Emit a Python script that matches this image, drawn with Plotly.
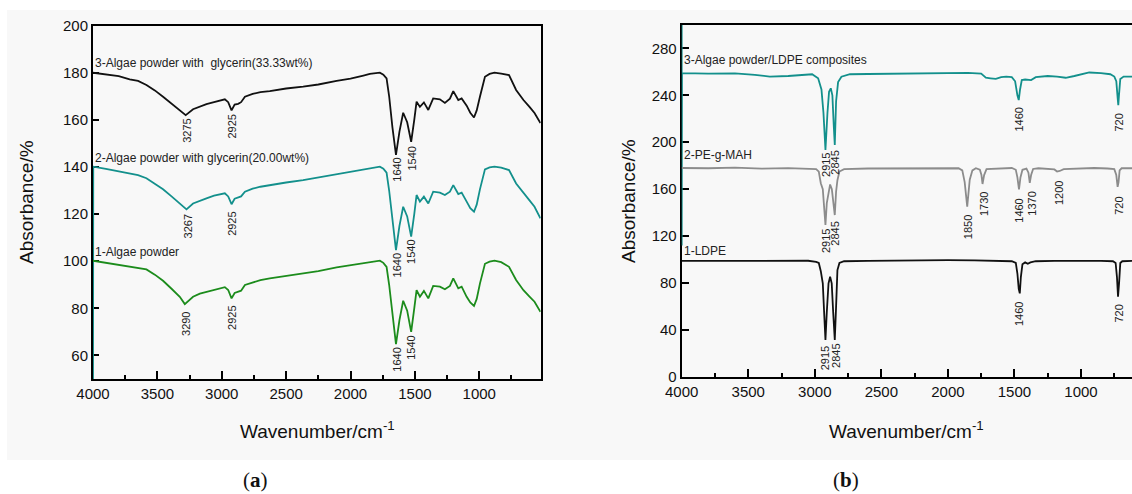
import plotly.graph_objects as go
from plotly.subplots import make_subplots

# ---------------- Panel (a) data ----------------
a3_w = [4000, 3900, 3800, 3715, 3650, 3585, 3520, 3456, 3390, 3326, 3280, 3223, 3170, 3119, 3060, 3015,
        2976, 2950, 2924, 2900, 2873, 2850, 2820, 2760, 2700, 2627, 2500, 2368, 2250, 2108, 2000, 1900,
        1850, 1772, 1745, 1720, 1700, 1675, 1647, 1620, 1591, 1560, 1529, 1505, 1487, 1461, 1430, 1396,
        1358, 1306, 1267, 1228, 1202, 1163, 1137, 1098, 1070, 1041, 1020, 995, 956, 920, 882, 830, 769,
        714, 657, 610, 571, 525]
a3_v = [180, 179.2, 178.6, 177.2, 176.5, 174.8, 172.5, 169.8, 167, 164.2, 162, 164.5, 165.8, 166.7, 167.5,
        168.1, 168.7, 167.5, 164, 166.5, 166.8, 167.5, 169.8, 171, 171.8, 172.2, 173.3, 174.1, 175, 176.5,
        177.5, 178.8, 179.5, 180, 179.2, 177.6, 170, 157, 145.1, 155, 163, 159, 150.7, 160, 167.7, 165.5,
        167.4, 164.2, 169.1, 168.7, 167.2, 169, 172.2, 168.4, 169.1, 166, 163, 161, 164, 169.8, 178.3,
        179.5, 180, 179.6, 179, 172.7, 168.4, 165.5, 162.9, 158.6]

a2_w = [4000, 3998, 3900, 3800, 3715, 3650, 3585, 3520, 3456, 3390, 3326, 3274, 3223, 3170, 3119, 3060,
        3015, 2976, 2950, 2924, 2900, 2873, 2850, 2820, 2760, 2700, 2627, 2500, 2368, 2250, 2108, 2000,
        1900, 1850, 1772, 1745, 1720, 1700, 1675, 1647, 1620, 1591, 1560, 1529, 1505, 1487, 1461, 1430,
        1396, 1358, 1306, 1267, 1228, 1202, 1163, 1137, 1098, 1070, 1041, 1020, 995, 956, 920, 882, 830,
        769, 714, 657, 610, 571, 525]
a2_v = [45, 140.1, 139.2, 138.2, 137.3, 136.5, 135.2, 133, 130.5, 127.5, 124.5, 122, 124.5, 125.8, 126.7,
        127.8, 128.5, 128.8, 127.5, 124.2, 126.5, 127, 127.5, 129.5, 130.8, 131.6, 132.3, 133.4, 134.4,
        135.5, 137, 138, 138.9, 139.4, 140.1, 139.3, 137.6, 130, 117, 104.7, 115, 123.1, 119, 110.4, 120,
        128.1, 125.3, 127.4, 124.5, 129.5, 129.1, 128.1, 129.5, 132.3, 128.5, 129.1, 125.3, 122.5, 121,
        124, 130.5, 139, 139.8, 140.1, 139.7, 138.7, 133, 128.8, 125.8, 123.1, 118.2]

a1_w = [4000, 3900, 3800, 3715, 3650, 3585, 3520, 3456, 3390, 3326, 3287, 3223, 3170, 3119, 3060, 3015,
        2976, 2950, 2924, 2900, 2873, 2850, 2820, 2760, 2700, 2627, 2500, 2368, 2250, 2108, 2000, 1900,
        1850, 1772, 1745, 1720, 1700, 1675, 1647, 1620, 1591, 1560, 1529, 1505, 1487, 1461, 1430, 1396,
        1358, 1306, 1267, 1228, 1202, 1163, 1137, 1098, 1070, 1041, 1020, 995, 956, 920, 882, 830, 769,
        714, 657, 610, 571, 525]
a1_v = [100.2, 99.3, 98.5, 97.6, 97, 96.5, 94.3, 91.7, 88.3, 84.9, 81.8, 84.9, 86.2, 87, 88, 88.5, 89,
        87.8, 84.2, 86.5, 87, 87.5, 89.9, 91, 92, 92.7, 93.7, 94.8, 95.8, 97.4, 98.3, 99.2, 99.8, 100.2,
        99.3, 97.6, 90, 77, 64.8, 75, 83.2, 79, 70, 80, 87.7, 84.9, 87.4, 84.2, 89.5, 89.2, 88.1, 89.5,
        92.7, 88.5, 89.2, 84.9, 82.5, 81, 84, 90.5, 98.9, 99.8, 100.2, 99.6, 97.6, 92, 87.7, 85, 82.8, 78.5]

a_names = ["3-Algae powder with&nbsp; glycerin(33.33wt%)",
           "2-Algae powder with glycerin(20.00wt%)",
           "1-Algae powder"]
a_name_y = [184.1, 143.8, 103.9]

a_peak_text = ["3275", "2925", "1640", "1540", "3267", "2925", "1640", "1540",
               "3290", "2925", "1640", "1540"]
a_peak_x = [3272, 2922, 1642, 1526, 3264, 2922, 1642, 1526, 3274, 2922, 1642, 1526]
a_peak_y = [161.2, 163, 144.6, 149.3, 120.6, 121.7, 104, 109.7, 79.5, 81.8, 64, 69]

# ---------------- Panel (b) data ----------------
b3_w = [4000, 4000, 3998, 3800, 3600, 3450, 3338, 3200, 3100, 3020, 2975, 2950, 2935, 2920, 2905, 2893,
        2880, 2868, 2858, 2850, 2840, 2825, 2800, 2736, 2600, 2400, 2200, 2000, 1850, 1750, 1715, 1680,
        1640, 1600, 1562, 1520, 1495, 1478, 1468, 1458, 1445, 1420, 1375, 1340, 1250, 1180, 1115, 1050,
        938, 850, 780, 750, 735, 725, 720, 715, 705, 680, 622, 600]
b3_v = [310, 112, 259, 258.5, 258.8, 257.5, 256, 256.5, 257.5, 258, 254.5, 245, 225, 193.4, 225, 243,
        246, 240, 215, 197.6, 235, 251.3, 255.9, 258, 258.2, 258.5, 258.3, 258.8, 259.2, 258.5, 255,
        254.5, 254, 255.5, 255.9, 255.5, 252, 240, 236, 245, 253, 253.5, 253, 255.5, 256.5, 256, 255,
        256.5, 259.5, 259, 258, 256, 252, 238, 231.7, 240, 254, 256, 256, 256]

b2_w = [4000, 3800, 3600, 3400, 3200, 3050, 2990, 2970, 2955, 2940, 2930, 2920, 2910, 2895, 2885, 2872,
        2860, 2850, 2840, 2830, 2815, 2780, 2600, 2400, 2200, 2000, 1920, 1892, 1874, 1855, 1836, 1816,
        1790, 1760, 1748, 1740, 1728, 1710, 1600, 1520, 1490, 1478, 1466, 1455, 1440, 1410, 1395, 1385,
        1375, 1360, 1320, 1250, 1200, 1180, 1160, 1130, 1000, 900, 800, 750, 735, 725, 718, 710, 695,
        650, 600]
b2_v = [178, 177.8, 178.3, 177.5, 177.9, 177.6, 177, 174.9, 165, 160, 145, 129.4, 148, 160, 164, 160,
        150, 137.9, 158, 167.6, 175, 177, 177.6, 177.8, 178, 178.2, 177.8, 176, 166, 145, 168, 176,
        177.8, 176.5, 172, 164.4, 172, 177, 177.8, 178, 176.5, 170, 159.8, 170, 176.5, 177.5, 174,
        165.3, 172, 177.2, 177.8, 177.5, 176.8, 175, 175.5, 177, 177.8, 178, 177.6, 177, 172, 162, 166,
        176, 177.8, 178, 177.8]

b1_w = [4000, 3800, 3600, 3400, 3200, 3050, 2990, 2970, 2955, 2940, 2930, 2920, 2910, 2897, 2885, 2873,
        2862, 2850, 2840, 2830, 2815, 2780, 2600, 2400, 2200, 2000, 1800, 1600, 1520, 1490, 1478, 1468,
        1460, 1452, 1440, 1420, 1400, 1380, 1340, 1200, 1000, 850, 760, 740, 730, 722, 714, 705, 690,
        650, 600]
b1_v = [98.8, 98.9, 98.7, 99, 98.8, 98.9, 98, 97, 90, 79.7, 55, 31.3, 55, 79.7, 85.3, 79.7, 55, 31.3,
        60, 91, 97, 98.5, 98.8, 99.2, 99, 99.4, 99.2, 99, 98.5, 97, 88, 75, 71.1, 85, 96, 97.5, 96.3,
        97.5, 98.5, 98.8, 99, 98.8, 98.5, 97, 85, 68.2, 80, 97, 98.5, 98.8, 98.8]

b_names = ["3-Algae powder/LDPE composites", "2-PE-g-MAH", "1-LDPE"]
b_name_y = [270.1, 189.1, 107.2]

b_peak_text = ["2915", "2845", "1460", "720", "2915", "2845", "1850", "1730", "1460", "1370", "1200",
               "720", "2915", "2845", "1460", "720"]
b_peak_x = [2921, 2846, 1469, 716, 2921, 2846, 1850, 1729, 1466, 1366, 1160, 716, 2921, 2846, 1466, 716]
b_peak_y = [192.8, 194.8, 230.9, 226, 127.9, 134.2, 139.4, 159.2, 153.5, 159.8, 168.4, 155, 27.9, 29.9,
            65.4, 63.1]

# ---------------- styles ----------------
BLACK = "#111111"
TEAL = "#13908c"
GREEN = "#1c8c1c"
GRAY = "#8c8c8c"
BG = "#f8f8f8"
FONT = "Liberation Sans, Arial, sans-serif"

fig = make_subplots(rows=1, cols=2)

for w, v, c in [(a3_w, a3_v, BLACK), (a2_w, a2_v, TEAL), (a1_w, a1_v, GREEN)]:
    fig.add_trace(go.Scatter(x=w, y=v, mode="lines", line=dict(color=c, width=1.8),
                             showlegend=False, hoverinfo="skip"), row=1, col=1)
for w, v, c in [(b3_w, b3_v, TEAL), (b2_w, b2_v, GRAY), (b1_w, b1_v, BLACK)]:
    fig.add_trace(go.Scatter(x=w, y=v, mode="lines", line=dict(color=c, width=1.8),
                             showlegend=False, hoverinfo="skip"), row=1, col=2)

W, H = 1132, 494
def px(x):
    return x / W
def py(y):
    return 1 - y / H

axis_common = dict(showline=True, linecolor="black", linewidth=2, showgrid=False, zeroline=False,
                   ticks="inside", tickcolor="black", tickwidth=1.5, automargin=False,
                   tickfont=dict(family=FONT, size=15, color="#111"), layer="below traces")

fig.update_layout(
    width=W, height=H, margin=dict(l=0, r=0, t=0, b=0, pad=0, autoexpand=False),
    paper_bgcolor="white", plot_bgcolor=BG,
    xaxis=dict(domain=[px(93), px(540.7)], range=[4000, 523], dtick=500, tick0=0, ticklen=8,
               minor=dict(dtick=250, tick0=0, ticklen=4, ticks="inside", tickcolor="black", tickwidth=1.5),
               mirror=True, **axis_common),
    yaxis=dict(domain=[py(379), py(25.6)], range=[50, 200], dtick=20, tick0=0, ticklen=6,
               mirror=True, **axis_common),
    xaxis2=dict(domain=[px(681.7), 1.0], range=[4000, 617], dtick=500, tick0=0, ticklen=8,
                minor=dict(dtick=250, tick0=0, ticklen=4, ticks="inside", tickcolor="black", tickwidth=1.5),
                mirror=True, **axis_common),
    yaxis2=dict(domain=[py(376.7), py(25)], range=[0, 300], dtick=40, tick0=0, ticklen=7,
                mirror=False, **axis_common),
)

# background panel
fig.add_shape(type="rect", xref="paper", yref="paper", x0=px(7), x1=1.0, y0=py(460), y1=py(10),
              fillcolor=BG, line=dict(width=0), layer="below")

anns = []
# axis titles
for xc in [317, 906]:
    anns.append(dict(text="Wavenumber/cm<sup>-1</sup>", x=px(xc), y=py(430), xref="paper", yref="paper",
                     xanchor="center", yanchor="middle", showarrow=False,
                     font=dict(family=FONT, size=19, color="#111")))
for xc, yc in [(26, 202), (628, 201)]:
    anns.append(dict(text="Absorbance/%", x=px(xc), y=py(yc), xref="paper", yref="paper",
                     xanchor="center", yanchor="middle", showarrow=False, textangle=-90,
                     font=dict(family=FONT, size=19, color="#111")))
# panel letters
for xc, t in [(255, "(<b>a</b>)"), (846, "(<b>b</b>)")]:
    anns.append(dict(text=t, x=px(xc), y=py(480), xref="paper", yref="paper", showarrow=False,
                     xanchor="center", yanchor="middle",
                     font=dict(family="Liberation Serif, DejaVu Serif, serif", size=21, color="#111")))
# series names
for name, yv in zip(a_names, a_name_y):
    anns.append(dict(text=name, x=4000, y=yv, xref="x", yref="y", xanchor="left", yanchor="middle",
                     showarrow=False, font=dict(family=FONT, size=12, color="#222")))
for name, yv in zip(b_names, b_name_y):
    anns.append(dict(text=name, x=4000, y=yv, xref="x2", yref="y2", xanchor="left", yanchor="middle",
                     showarrow=False, font=dict(family=FONT, size=12, color="#222")))
# peak labels
for t, xv, yv in zip(a_peak_text, a_peak_x, a_peak_y):
    anns.append(dict(text=t, x=xv, y=yv, xref="x", yref="y", xanchor="center", yanchor="top",
                     textangle=-90, showarrow=False, font=dict(family=FONT, size=11, color="#222")))
for t, xv, yv in zip(b_peak_text, b_peak_x, b_peak_y):
    anns.append(dict(text=t, x=xv, y=yv, xref="x2", yref="y2", xanchor="center", yanchor="top",
                     textangle=-90, showarrow=False, font=dict(family=FONT, size=11, color="#222")))

fig.update_layout(annotations=anns)
fig.write_html("out.html")
